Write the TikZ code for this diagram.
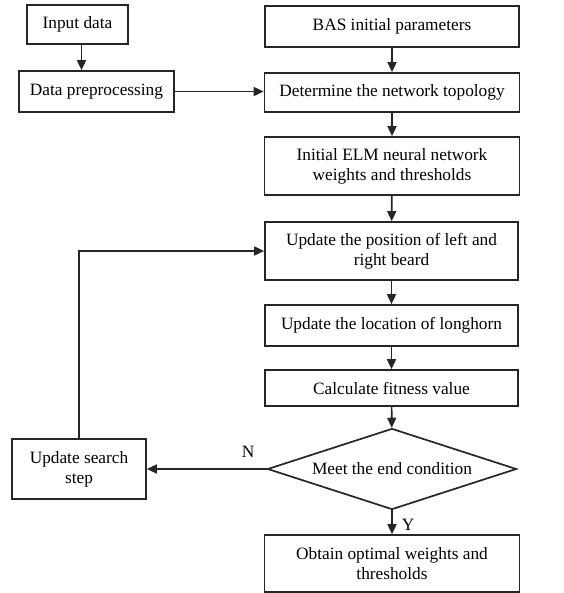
\documentclass[tikz,border=0pt]{standalone}
\usepackage{fontspec}
\setmainfont{Liberation Serif}
\usetikzlibrary{arrows.meta,shapes.geometric}
\tikzset{
  box/.style={draw=black!85, line width=1.7pt, inner sep=0pt, align=center, font=\fontsize{17.3}{20}\selectfont},
  dec/.style={draw=black!85, diamond, line width=1.7pt, inner sep=0pt, aspect=3.07, font=\fontsize{17.3}{20}\selectfont},
  conn/.style={draw=black!85, line width=1.7pt, -{Triangle[length=10pt,width=9pt]}},
  lbl/.style={font=\fontsize{17.3}{20}\selectfont}
}
\begin{document}
\begin{tikzpicture}[x=1pt,y=-1pt]
\useasboundingbox (0,0) rectangle (563,593);
\node[box, minimum width=101pt, minimum height=39pt] (in) at (77.5,24.5) {Input data};
\node[box, minimum width=155pt, minimum height=41pt] (pre) at (96.5,91.5) {Data preprocessing};
\node[box, minimum width=254pt, minimum height=41pt] (bas) at (392,26.5) {BAS initial parameters};
\node[box, minimum width=255pt, minimum height=39pt] (top) at (392,92.5) {Determine the network topology};
\node[box, minimum width=255pt, minimum height=58pt] (elm) at (392,166) {Initial ELM neural network\\weights and thresholds};
\node[box, minimum width=253pt, minimum height=58pt] (upd) at (391.5,251) {Update the position of left and\\right beard};
\node[box, minimum width=253pt, minimum height=41pt] (loc) at (391.5,325.5) {Update the location of longhorn};
\node[box, minimum width=253pt, minimum height=36pt] (fit) at (391.5,388) {Calculate fitness value};
\node[dec, minimum width=249pt, minimum height=81pt] (dia) at (392,469) {Meet the end condition};
\node[box, minimum width=134pt, minimum height=60pt] (step) at (79,469) {Update search\\step};
\node[box, minimum width=255pt, minimum height=57pt] (obt) at (392,563.5) {Obtain optimal weights and\\thresholds};
\node[lbl] (nl) at (248,452) {N};
\node[lbl] (yl) at (408,525) {Y};
\draw[conn] ([xshift=4pt]in.south) -- ([xshift=4pt]in.south |- pre.north);
\draw[conn] (pre.east) -- (pre.east -| top.west);
\draw[conn] (bas) -- (top);
\draw[conn] (top) -- (elm);
\draw[conn] (elm) -- (upd);
\draw[conn] (upd) -- (loc);
\draw[conn] (loc) -- (fit);
\draw[conn] (fit) -- (dia);
\draw[conn] (dia) -- (obt);
\draw[conn] (dia.west) -- (step.east);
\draw[conn] (step.north) -- (step.north |- upd.west) -- (upd.west);
\end{tikzpicture}
\end{document}
